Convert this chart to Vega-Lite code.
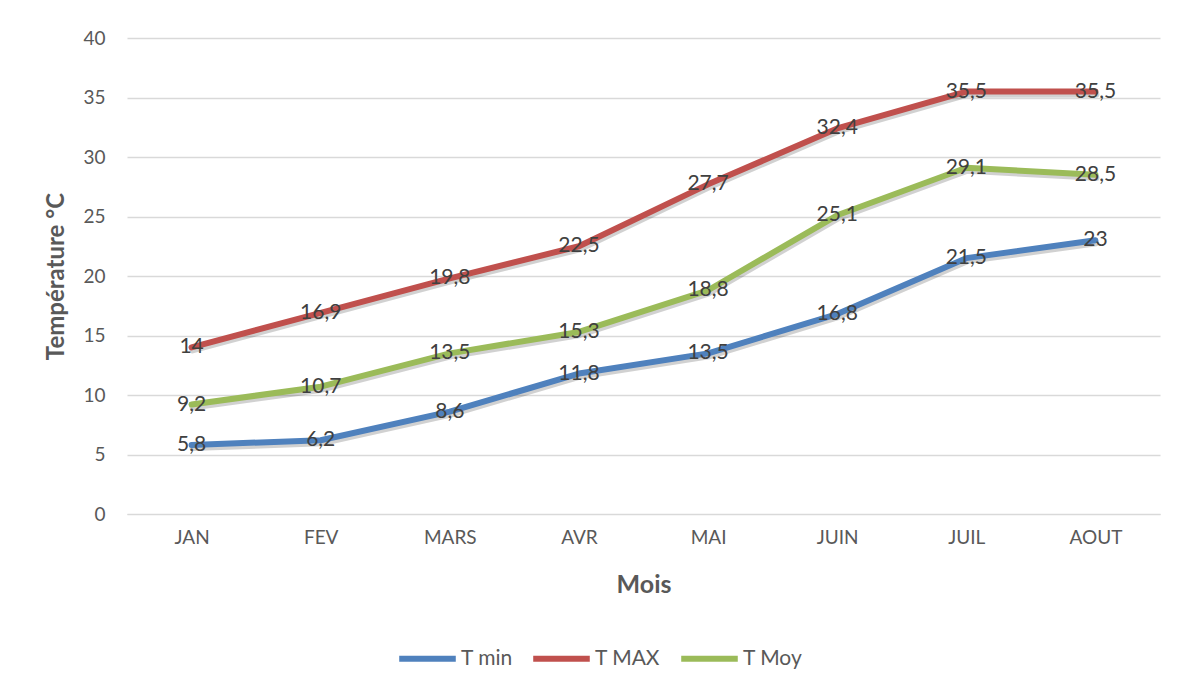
{
  "$schema": "https://vega.github.io/schema/vega-lite/v6.json",
  "autosize": "none",
  "width": 1033,
  "height": 476,
  "padding": {"left": 127, "top": 38, "right": 24, "bottom": 177},
  "background": "#ffffff",
  "config": {
    "view": {"stroke": null},
    "font": "Lato",
    "locale": {"number": {"decimal": ",", "thousands": " ", "grouping": [3], "currency": ["", " €"]}}
  },
  "data": {
    "values": [
      {"mois": "JAN", "serie": "T min", "t": 5.8},
      {"mois": "FEV", "serie": "T min", "t": 6.2},
      {"mois": "MARS", "serie": "T min", "t": 8.6},
      {"mois": "AVR", "serie": "T min", "t": 11.8},
      {"mois": "MAI", "serie": "T min", "t": 13.5},
      {"mois": "JUIN", "serie": "T min", "t": 16.8},
      {"mois": "JUIL", "serie": "T min", "t": 21.5},
      {"mois": "AOUT", "serie": "T min", "t": 23},
      {"mois": "JAN", "serie": "T MAX", "t": 14},
      {"mois": "FEV", "serie": "T MAX", "t": 16.9},
      {"mois": "MARS", "serie": "T MAX", "t": 19.8},
      {"mois": "AVR", "serie": "T MAX", "t": 22.5},
      {"mois": "MAI", "serie": "T MAX", "t": 27.7},
      {"mois": "JUIN", "serie": "T MAX", "t": 32.4},
      {"mois": "JUIL", "serie": "T MAX", "t": 35.5},
      {"mois": "AOUT", "serie": "T MAX", "t": 35.5},
      {"mois": "JAN", "serie": "T Moy", "t": 9.2},
      {"mois": "FEV", "serie": "T Moy", "t": 10.7},
      {"mois": "MARS", "serie": "T Moy", "t": 13.5},
      {"mois": "AVR", "serie": "T Moy", "t": 15.3},
      {"mois": "MAI", "serie": "T Moy", "t": 18.8},
      {"mois": "JUIN", "serie": "T Moy", "t": 25.1},
      {"mois": "JUIL", "serie": "T Moy", "t": 29.1},
      {"mois": "AOUT", "serie": "T Moy", "t": 28.5}
    ]
  },
  "encoding": {
    "x": {
      "field": "mois", "type": "ordinal",
      "sort": ["JAN", "FEV", "MARS", "AVR", "MAI", "JUIN", "JUIL", "AOUT"],
      "scale": {"type": "point", "padding": 0.5},
      "axis": {
        "title": "Mois", "titleFontSize": 25, "titleFontWeight": "bold", "titleColor": "#595959",
        "titlePadding": 25,
        "labelAngle": 0, "labelFontSize": 19, "labelColor": "#595959", "labelPadding": 14,
        "domain": true, "domainColor": "#d9d9d9", "ticks": false, "grid": false
      }
    },
    "y": {
      "field": "t", "type": "quantitative",
      "scale": {"domain": [0, 40], "nice": false},
      "axis": {
        "title": "Température °C", "titleFontSize": 24, "titleFontWeight": "bold", "titleColor": "#595959",
        "titlePadding": 14,
        "values": [0, 5, 10, 15, 20, 25, 30, 35, 40],
        "labelFontSize": 19, "labelColor": "#595959", "labelPadding": 22,
        "domain": false, "ticks": false, "grid": true, "gridColor": "#d9d9d9", "gridWidth": 1.5
      }
    }
  },
  "layer": [
    {
      "mark": {"type": "line", "strokeWidth": 6, "strokeCap": "round", "strokeJoin": "round", "color": "#000000", "opacity": 0.18, "xOffset": 1, "yOffset": 3},
      "encoding": {"detail": {"field": "serie"}}
    },
    {
      "mark": {"type": "line", "strokeWidth": 6, "strokeCap": "round", "strokeJoin": "round"},
      "encoding": {
        "color": {
          "field": "serie", "type": "nominal",
          "scale": {"domain": ["T min", "T MAX", "T Moy"], "range": ["#4f81bd", "#c0504d", "#9bbb59"]},
          "legend": {
            "title": null, "orient": "none", "direction": "horizontal",
            "legendX": 269, "legendY": 589,
            "symbolType": "stroke", "symbolSize": 3200, "symbolStrokeWidth": 6,
            "labelFontSize": 21, "labelColor": "#595959", "labelOffset": 2, "columnPadding": 8
          }
        }
      }
    },
    {
      "mark": {"type": "text", "fontSize": 21, "color": "#404040", "align": "center", "baseline": "middle"},
      "encoding": {"text": {"field": "t", "type": "quantitative", "format": ".1~f"}}
    }
  ]
}
